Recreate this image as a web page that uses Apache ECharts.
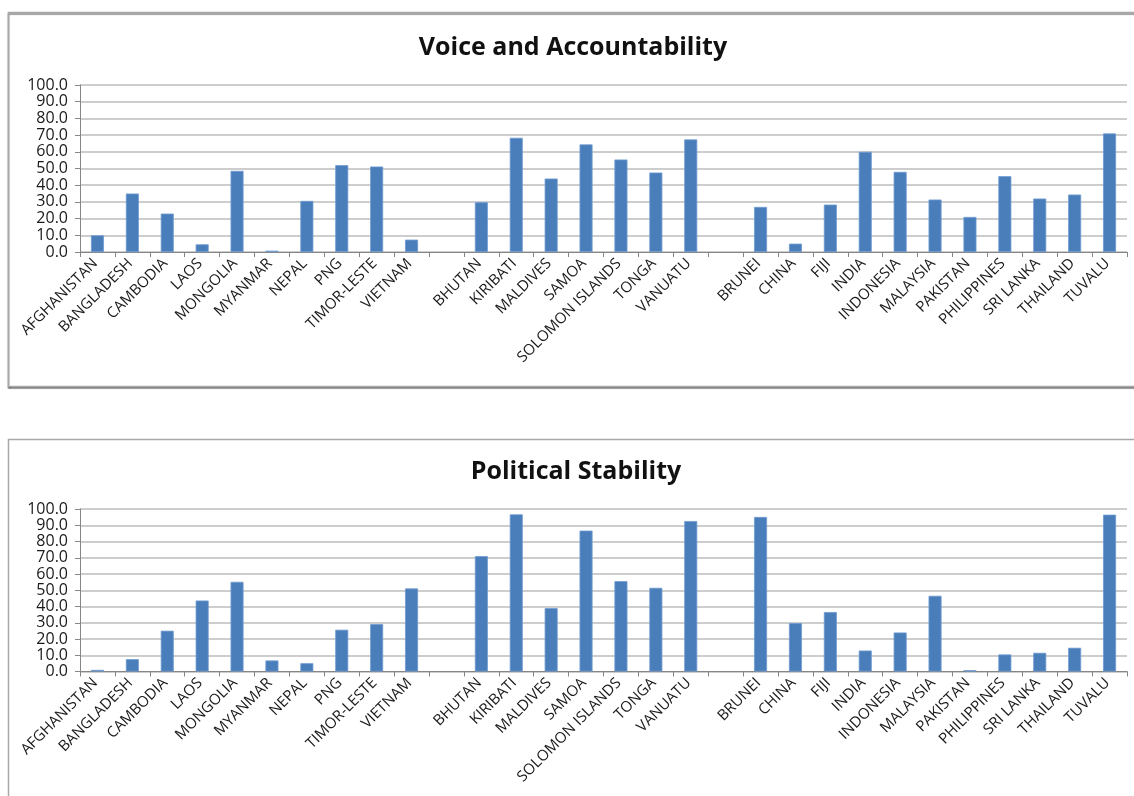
<!DOCTYPE html>
<html>
<head>
<meta charset="utf-8">
<script src="https://cdn.jsdelivr.net/npm/echarts@6/dist/echarts.min.js"></script>
<style>
  html, body { margin: 0; padding: 0; background: #ffffff; }
  #chart { width: 1134px; height: 796px; }
</style>
</head>
<body>
<div id="chart"></div>
<script>
// Country groups, separated by an empty slot between groups
const countries = [
  'AFGHANISTAN', 'BANGLADESH', 'CAMBODIA', 'LAOS', 'MONGOLIA', 'MYANMAR', 'NEPAL', 'PNG', 'TIMOR-LESTE', 'VIETNAM',
  ' ',
  'BHUTAN', 'KIRIBATI', 'MALDIVES', 'SAMOA', 'SOLOMON ISLANDS', 'TONGA', 'VANUATU',
  '  ',
  'BRUNEI', 'CHINA', 'FIJI', 'INDIA', 'INDONESIA', 'MALAYSIA', 'PAKISTAN', 'PHILIPPINES', 'SRI LANKA', 'THAILAND', 'TUVALU'
];

const voiceAccountability = [
  10.0, 35.0, 23.0, 4.6, 48.6, 0.8, 30.6, 52.0, 51.2, 7.4,
  null,
  29.8, 68.4, 44.0, 64.4, 55.4, 47.6, 67.4,
  null,
  27.0, 5.0, 28.4, 60.0, 48.0, 31.4, 21.0, 45.4, 32.0, 34.4, 71.0
];

const politicalStability = [
  1.0, 7.6, 25.1, 43.7, 55.2, 6.8, 5.1, 25.7, 29.2, 51.1,
  null,
  71.0, 96.7, 39.0, 86.7, 55.6, 51.5, 92.6,
  null,
  95.1, 29.8, 36.6, 12.9, 24.0, 46.6, 0.8, 10.5, 11.5, 14.6, 96.5
];

const chartTitles = ['Voice and Accountability', 'Political Stability'];

const FONT = '"Open Sans", "Liberation Sans", sans-serif';
const BAR = '#4a7ebb';

function xAxis(gridIndex) {
  return {
    type: 'category',
    gridIndex,
    data: countries,
    boundaryGap: true,
    axisLine: { lineStyle: { color: '#868686', width: 1 } },
    axisTick: { show: true, length: 5, lineStyle: { color: '#868686' }, interval: 0 },
    axisLabel: {
      interval: 0, rotate: 45, fontSize: 15, color: '#1a1a1a',
      fontFamily: FONT, margin: 7, padding: [0, 3, 0, 0]
    },
    splitLine: { show: false }
  };
}

function yAxis(gridIndex) {
  return {
    type: 'value',
    gridIndex,
    min: 0, max: 100, interval: 10,
    axisLine: { show: true, lineStyle: { color: '#868686' } },
    axisTick: { show: true, length: 5, lineStyle: { color: '#868686' } },
    axisLabel: {
      fontSize: 16, color: '#1a1a1a', fontFamily: FONT, margin: 12,
      formatter: v => v.toFixed(1)
    },
    splitLine: { show: true, lineStyle: { color: '#bdbdbd', width: 1.5 } }
  };
}

function barSeries(idx, data) {
  return {
    type: 'bar',
    xAxisIndex: idx, yAxisIndex: idx,
    data,
    barWidth: 13,
    itemStyle: { color: BAR, borderColor: '#6f9bd1', borderWidth: 0.8 },
    emphasis: { disabled: true }
  };
}

const chart = echarts.init(document.getElementById('chart'), null, { renderer: 'canvas' });

chart.setOption({
  backgroundColor: '#ffffff',
  animation: false,
  graphic: [
    // frame around each chart panel
    { type: 'rect', z: -10, shape: { x: 8.5, y: 12.5, width: 1140, height: 374 },
      style: { fill: '#ffffff', stroke: '#a8a8a8', lineWidth: 1.5,
               shadowColor: 'rgba(0,0,0,0.5)', shadowOffsetY: 1.5, shadowBlur: 1 } },
    { type: 'rect', z: -10, shape: { x: 8.5, y: 439.5, width: 1140, height: 400 },
      style: { fill: '#ffffff', stroke: '#a8a8a8', lineWidth: 1.5 } }
  ],
  title: [
    { text: chartTitles[0], left: 568, top: 30, textAlign: 'center',
      textStyle: { fontFamily: FONT, fontSize: 25, fontWeight: 'bold', color: '#111' } },
    { text: chartTitles[1], left: 571, top: 454, textAlign: 'center',
      textStyle: { fontFamily: FONT, fontSize: 25, fontWeight: 'bold', color: '#111' } }
  ],
  grid: [
    { left: 80, right: 7, top: 85, height: 167 },
    { left: 80, right: 7, top: 509, height: 162.5 }
  ],
  xAxis: [xAxis(0), xAxis(1)],
  yAxis: [yAxis(0), yAxis(1)],
  series: [barSeries(0, voiceAccountability), barSeries(1, politicalStability)]
});
</script>
</body>
</html>
